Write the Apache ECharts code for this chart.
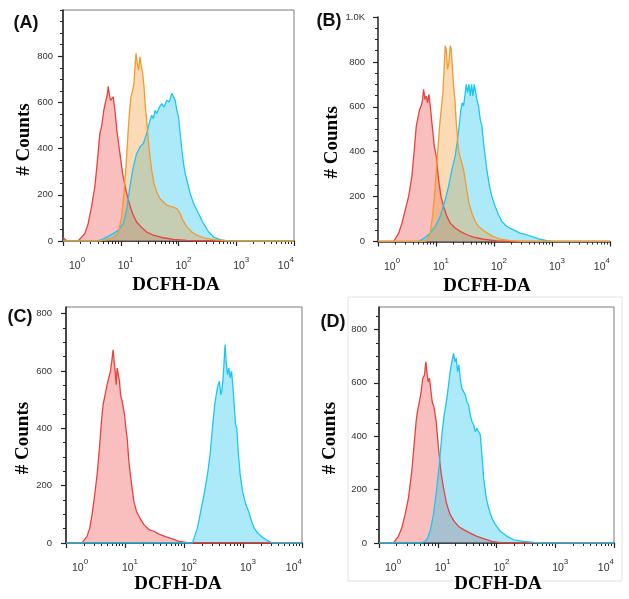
<!DOCTYPE html>
<html>
<head>
<meta charset="utf-8">
<script src="https://cdn.jsdelivr.net/npm/echarts@6/dist/echarts.min.js"></script>
<style>html,body{margin:0;padding:0;background:#fff}#c{width:629px;height:599px}</style>
</head>
<body>
<div id="c"></div>
<script>
// x = log10(DCFH-DA intensity), y = # counts
const xTickExponents = [0, 1, 2, 3, 4];
const panelLabels = ['(A)', '(B)', '(C)', '(D)'];

const A_red = [[0,14],[0.06,2],[0.261,0],[0.29,6],[0.377,32],[0.435,75],[0.493,147],[0.551,234],[0.591,335],[0.638,465],[0.667,494],[0.707,566],[0.742,609],[0.765,631],[0.783,670],[0.8,638],[0.823,609],[0.846,617],[0.87,624],[0.899,566],[0.939,465],[0.986,378],[1.032,292],[1.09,219],[1.148,162],[1.206,118],[1.275,82],[1.362,58],[1.449,39],[1.565,25],[1.739,14],[1.913,7],[2.145,3],[2.377,0],[4,0]];
const A_blue = [[0,0],[0.58,0],[0.667,6],[0.754,17],[0.87,32],[0.957,46],[1.043,75],[1.101,133],[1.159,234],[1.217,321],[1.275,378],[1.333,407],[1.391,422],[1.449,465],[1.507,523],[1.536,544],[1.565,530],[1.594,566],[1.623,552],[1.67,580],[1.71,595],[1.751,580],[1.797,609],[1.843,602],[1.884,640],[1.913,624],[1.942,609],[1.971,566],[2.0,537],[2.029,465],[2.058,393],[2.087,335],[2.116,292],[2.145,263],[2.203,205],[2.261,162],[2.348,118],[2.435,75],[2.522,39],[2.609,17],[2.725,6],[2.841,0],[4,0]];
const A_orange = [[0,0],[0.638,0],[0.754,6],[0.87,14],[0.957,32],[1.014,104],[1.055,205],[1.09,321],[1.119,436],[1.148,552],[1.177,624],[1.206,653],[1.229,682],[1.246,754],[1.264,812],[1.275,818],[1.287,768],[1.31,739],[1.333,797],[1.357,754],[1.38,725],[1.403,668],[1.426,580],[1.449,523],[1.478,436],[1.507,364],[1.536,306],[1.577,248],[1.623,212],[1.681,183],[1.739,169],[1.797,155],[1.855,150],[1.913,147],[1.971,140],[2.029,118],[2.075,90],[2.145,61],[2.232,39],[2.319,25],[2.435,14],[2.609,6],[2.841,1],[3.072,0],[4,0]];

const B_red = [[0,0],[0.27,0],[0.298,7],[0.356,37],[0.413,82],[0.471,142],[0.528,201],[0.585,291],[0.626,410],[0.66,514],[0.683,544],[0.717,589],[0.746,604],[0.769,633],[0.786,678],[0.809,633],[0.832,648],[0.855,618],[0.878,656],[0.901,604],[0.935,514],[0.97,425],[1.004,380],[1.044,276],[1.085,201],[1.131,156],[1.188,112],[1.245,82],[1.331,60],[1.418,45],[1.532,30],[1.647,19],[1.819,10],[2.049,3],[2.278,0],[4,0]];
const B_blue = [[0,0],[0.671,0],[0.729,4],[0.815,19],[0.901,37],[0.987,67],[1.073,112],[1.159,186],[1.217,246],[1.274,320],[1.331,380],[1.372,455],[1.406,529],[1.429,589],[1.452,618],[1.475,604],[1.498,648],[1.521,700],[1.544,663],[1.567,700],[1.59,648],[1.613,700],[1.636,648],[1.659,700],[1.681,693],[1.704,633],[1.733,604],[1.762,544],[1.791,514],[1.819,440],[1.848,380],[1.876,320],[1.923,246],[1.963,201],[2.02,156],[2.078,119],[2.135,89],[2.221,67],[2.336,52],[2.45,37],[2.565,30],[2.68,19],[2.795,10],[2.91,4],[3.024,0],[4,0]];
const B_orange = [[0,0],[0.786,0],[0.844,4],[0.901,37],[0.947,127],[0.987,246],[1.027,395],[1.062,514],[1.09,589],[1.119,663],[1.142,782],[1.159,872],[1.176,857],[1.199,767],[1.222,797],[1.245,872],[1.263,857],[1.28,782],[1.303,693],[1.326,633],[1.349,529],[1.372,455],[1.395,395],[1.429,365],[1.475,320],[1.521,246],[1.567,171],[1.618,127],[1.676,89],[1.733,67],[1.819,49],[1.905,34],[1.991,22],[2.106,10],[2.278,4],[2.508,0],[4,0]];

const C_red = [[0,0],[0.272,0],[0.3,8],[0.357,23],[0.402,52],[0.442,99],[0.487,169],[0.527,238],[0.567,331],[0.601,424],[0.629,483],[0.652,506],[0.674,529],[0.697,552],[0.725,576],[0.754,599],[0.776,634],[0.799,674],[0.816,634],[0.833,599],[0.85,552],[0.867,610],[0.884,616],[0.907,564],[0.924,517],[0.952,494],[0.992,448],[1.014,401],[1.037,366],[1.065,285],[1.105,215],[1.15,145],[1.195,110],[1.252,87],[1.32,64],[1.405,47],[1.49,41],[1.575,31],[1.688,22],[1.802,14],[1.915,6],[2.057,1],[2.17,0],[4,0]];
const C_blue = [[0,0],[2.142,0],[2.17,17],[2.227,52],[2.283,110],[2.34,169],[2.397,238],[2.442,308],[2.482,401],[2.521,483],[2.555,529],[2.578,552],[2.601,564],[2.623,517],[2.64,529],[2.663,576],[2.68,634],[2.697,692],[2.714,634],[2.737,587],[2.759,610],[2.782,576],[2.805,599],[2.827,552],[2.85,483],[2.873,413],[2.895,401],[2.918,320],[2.952,238],[2.992,180],[3.048,134],[3.105,105],[3.144,76],[3.19,52],[3.246,35],[3.331,20],[3.416,8],[3.501,0],[4,0]];

const D_red = [[0,0],[0.245,0],[0.273,6],[0.33,25],[0.387,56],[0.444,106],[0.501,168],[0.558,268],[0.597,368],[0.632,455],[0.654,492],[0.688,530],[0.717,567],[0.745,617],[0.774,629],[0.797,679],[0.814,642],[0.836,604],[0.859,617],[0.882,623],[0.905,530],[0.939,505],[0.973,455],[1.013,355],[1.053,268],[1.098,206],[1.155,143],[1.212,106],[1.28,81],[1.354,62],[1.44,50],[1.553,37],[1.667,25],[1.781,16],[1.923,6],[2.065,1],[2.236,0],[4,0]];
const D_blue = [[0,0],[0.728,0],[0.757,1],[0.814,12],[0.87,44],[0.927,106],[0.984,206],[1.03,305],[1.07,405],[1.11,480],[1.155,542],[1.184,592],[1.212,642],[1.24,679],[1.269,710],[1.292,679],[1.314,692],[1.337,642],[1.36,667],[1.383,617],[1.411,579],[1.44,567],[1.468,555],[1.496,530],[1.525,517],[1.553,480],[1.582,455],[1.61,442],[1.639,417],[1.667,430],[1.696,417],[1.724,405],[1.752,330],[1.781,243],[1.826,168],[1.866,131],[1.923,93],[1.98,69],[2.065,44],[2.179,25],[2.293,12],[2.464,6],[2.634,2],[2.805,0],[4,0]];

const yMaxes = [1000, 1000, 823, 884];
const yLabelValues = [[0,200,400,600,800],[0,200,400,600,800,1000],[0,200,400,600,800],[0,200,400,600,800]];

// ---------- layout / style ----------
const grids = [
  {left:63, top:10, width:231, height:231, frame:true, yMargin:10, yGap:28, xGap:35, yNamePad:[0,28,0,0], xNamePad:[0,5,0,0]},
  {left:378, top:17, width:232, height:224.5, frame:false, yMargin:13, yGap:33, xGap:35, yNamePad:[0,26,0,0], xNamePad:[0,14,0,0]},
  {left:66, top:307, width:236, height:236, frame:true, yMargin:14, yGap:31, xGap:32, yNamePad:[0,26,0,0], xNamePad:[0,12,0,0]},
  {left:379, top:307, width:235, height:236, frame:true, yMargin:12, yGap:39, xGap:32, yNamePad:[0,26,0,0], xNamePad:[0,0,0,3]}
];
const labelPos = [[26,23],[329,21],[20,317],[333,322]];

const C_RED = {line:'#e8423e', fill:'rgba(238,75,70,0.5)'};
const C_BLUE = {line:'#1cc6f0', fill:'rgba(28,198,240,0.52)'};
const C_ORANGE = {line:'#f29a30', fill:'rgba(244,154,48,0.5)'};

const panelSeries = [
  [[A_red,C_RED],[A_blue,C_BLUE],[A_orange,C_ORANGE]],
  [[B_red,C_RED],[B_blue,C_BLUE],[B_orange,C_ORANGE]],
  [[C_red,C_RED],[C_blue,C_BLUE]],
  [[D_red,C_RED],[D_blue,C_BLUE]]
];

const minorLog = [];
for (let d = 0; d < 4; d++) for (let k = 2; k <= 9; k++) minorLog.push(d + Math.log10(k));

const axisCol = '#222';
const tickFont = 'Liberation Sans';
const nameStyle = {fontFamily:'Liberation Serif', fontWeight:'bold', fontSize:19, color:'#000'};

const option = {animation:false, grid:[], xAxis:[], yAxis:[], series:[], graphic:[]};

grids.forEach((g, i) => {
  option.grid.push({left:g.left, top:g.top, width:g.width, height:g.height, show:g.frame, borderColor:'#7a7a7a', borderWidth:1, backgroundColor:'transparent'});
});
// main x axes
grids.forEach((g, i) => {
  option.xAxis.push({
    gridIndex:i, type:'value', min:0, max:4, interval:1, position:'bottom',
    name:'DCFH-DA', nameLocation:'middle', nameGap:g.xGap, nameTextStyle:Object.assign({padding:g.xNamePad}, nameStyle),
    axisLine:{onZero:false, lineStyle:{color:axisCol, width:1.5}},
    axisTick:{length:5, lineStyle:{color:axisCol, width:1.2}},
    splitLine:{show:false},
    axisLabel:{
      margin:15, alignMinLabel:'left', alignMaxLabel:'right',
      formatter: function(v){ const sp = v===0 ? '{g0|}' : (v===4 ? '' : '{g|}'); return sp + '{b|10}{s|' + v + '}'; },
      rich:{
        g0:{width:6}, g:{width:10},
        b:{fontSize:10.5, fontFamily:tickFont, color:'#333', verticalAlign:'bottom'},
        s:{fontSize:8, fontFamily:tickFont, color:'#333', verticalAlign:'bottom', padding:[0,0,8,0]}
      }
    }
  });
});
// minor x axes
grids.forEach((g, i) => {
  option.xAxis.push({
    gridIndex:i, type:'value', min:0, max:4, position:'bottom',
    axisLine:{show:false}, axisLabel:{show:false}, splitLine:{show:false},
    axisTick:{length:3, customValues:minorLog, lineStyle:{color:axisCol, width:1}}
  });
});
// main y axes
grids.forEach((g, i) => {
  const labels = yLabelValues[i];
  option.yAxis.push({
    gridIndex:i, type:'value', min:0, max:yMaxes[i], position:'left',
    name:'# Counts', nameLocation:'middle', nameGap:g.yGap, nameTextStyle:Object.assign({padding:g.yNamePad}, nameStyle),
    axisLine:{onZero:false, lineStyle:{color:axisCol, width:1.5}},
    axisTick:{length:5, customValues:labels, lineStyle:{color:axisCol, width:1.2}},
    splitLine:{show:false},
    axisLabel:{customValues:labels, margin:g.yMargin, fontSize:9.5, fontFamily:tickFont, color:'#333',
      formatter: v => v === 1000 ? '1.0K' : String(v)}
  });
});
// minor y axes
grids.forEach((g, i) => {
  const mv = [];
  for (let v = 0; v <= yMaxes[i]; v += 50) mv.push(v);
  option.yAxis.push({
    gridIndex:i, type:'value', min:0, max:yMaxes[i], position:'left',
    axisLine:{show:false}, axisLabel:{show:false}, splitLine:{show:false},
    axisTick:{length:3, customValues:mv, lineStyle:{color:axisCol, width:1}}
  });
});

panelSeries.forEach((list, i) => {
  list.forEach(([data, col]) => {
    option.series.push({
      type:'line', xAxisIndex:i, yAxisIndex:i, data:data, showSymbol:false, smooth:false,
      lineStyle:{color:col.line, width:1.3}, itemStyle:{color:col.line},
      areaStyle:{color:col.fill, origin:'start'}
    });
  });
});

option.graphic.push({type:'rect', shape:{x:348, y:297, width:274, height:284}, style:{fill:'none', stroke:'#e2e2e2', lineWidth:1}, z:-1});
panelLabels.forEach((t, i) => {
  option.graphic.push({type:'text', x:labelPos[i][0], y:labelPos[i][1],
    style:{text:t, font:'bold 18px "Liberation Sans"', fill:'#111', textAlign:'center', textVerticalAlign:'middle'}});
});

const chart = echarts.init(document.getElementById('c'), null, {renderer:'canvas'});
chart.setOption(option);
</script>
</body>
</html>
